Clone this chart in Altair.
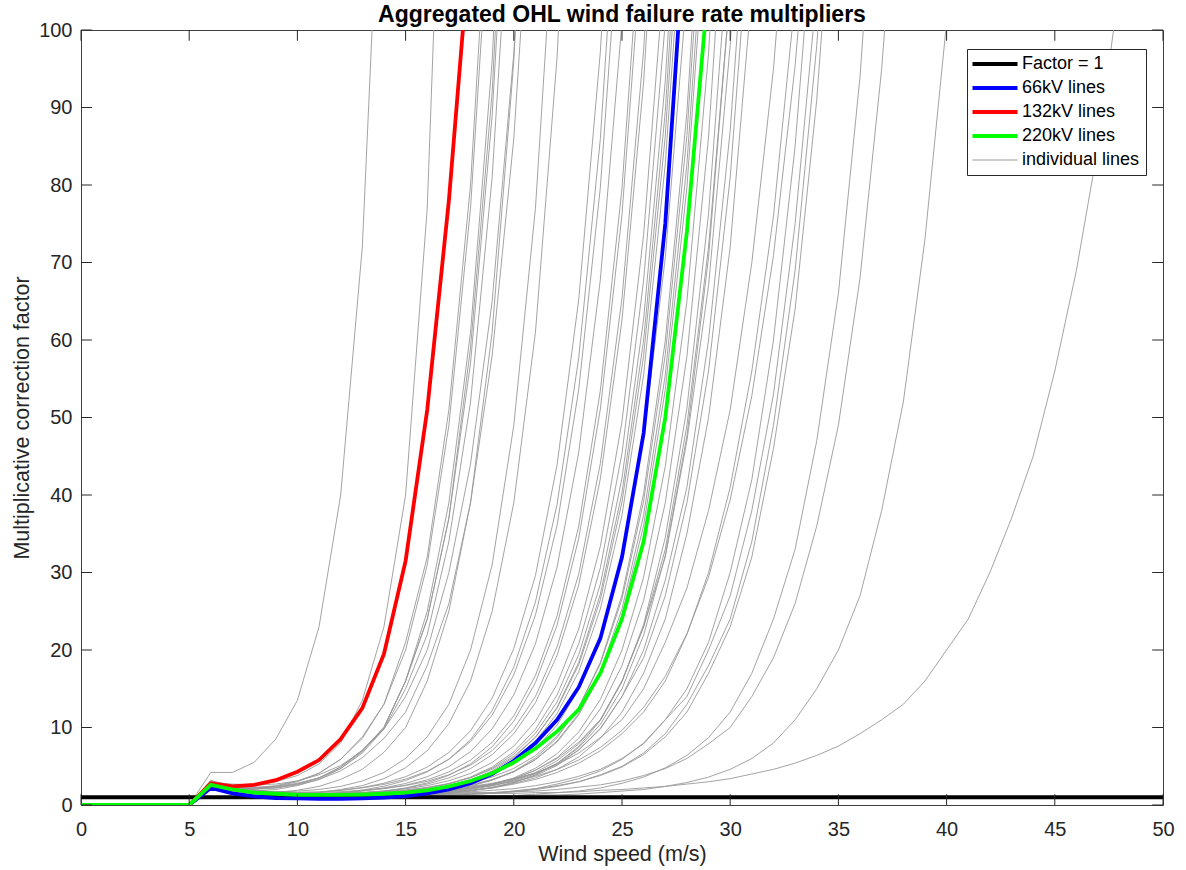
import altair as alt
import pandas as pd

speeds = list(range(0, 51))
calm = [0, 0, 0, 0, 0, 0]  # wind speeds 0..5 m/s

factor_x = [0, 50]
factor_y = [1, 1]
blue_66 = calm + [2.2, 1.5, 1.1, 0.9, 0.85, 0.8, 0.8, 0.85, 0.95, 1.15, 1.5, 2.0, 2.8, 4.0, 5.7, 8.0, 11.0, 15.2, 21.5, 32, 48, 75, 117]
red_132 = calm + [2.8, 2.4, 2.6, 3.2, 4.3, 5.8, 8.5, 12.5, 19.5, 31.5, 51, 78, 112]
green_220 = calm + [2.6, 2.0, 1.6, 1.45, 1.3, 1.3, 1.3, 1.35, 1.45, 1.6, 1.9, 2.4, 3.1, 4.1, 5.5, 7.3, 9.5, 12.3, 17, 24, 34, 50, 74, 106]

# individual lines, values from 6 m/s upward
individual = [
    [4.2, 4.2, 5.5, 8.5, 13.5, 23, 40, 72, 134],
    [3.1, 2.6, 2.7, 3.0, 3.8, 5.3, 8.0, 13.5, 23, 40, 77, 154],
    [2.6, 2.1, 2.1, 2.4, 3.0, 4.1, 5.9, 8.8, 13, 21, 32, 51, 80, 127],
    [2.9, 2.3, 2.2, 2.5, 3.1, 4.1, 5.9, 8.6, 13, 20, 31, 49, 77, 121],
    [2.3, 1.9, 1.8, 2.0, 2.5, 3.3, 4.7, 6.9, 10, 16, 25, 39, 61, 96, 153],
    [3.0, 2.4, 2.3, 2.4, 2.8, 3.5, 4.9, 7.0, 10, 16, 24, 37, 59, 92, 146],
    [2.7, 2.1, 2.0, 2.2, 2.7, 3.5, 4.9, 7.1, 10, 16, 24, 37, 57, 89, 138],
    [2.4, 2.3, 2.2, 2.3, 2.7, 3.5, 4.7, 6.7, 9.8, 15, 22, 34, 52, 81, 126],
    [2.8, 1.7, 1.5, 1.6, 1.9, 2.4, 3.3, 4.6, 6.8, 10, 16, 25, 39, 61, 96, 152],
    [2.8, 2.7, 2.6, 2.7, 3.1, 3.9, 5.1, 7.0, 9.8, 14, 20, 30, 44, 65, 97, 145],
    [3.2, 2.2, 2.1, 2.2, 2.6, 3.3, 4.4, 6.1, 8.6, 12, 18, 26, 39, 58, 86, 129],
    [2.4, 2.1, 1.8, 1.7, 1.8, 2.0, 2.4, 3.1, 4.2, 6.0, 8.8, 13, 20, 31, 49, 77, 121],
    [2.4, 1.7, 1.5, 1.4, 1.4, 1.6, 2.0, 2.5, 3.4, 4.8, 7.0, 10.5, 16, 25, 39, 61, 96.5, 153],
    [2.7, 1.9, 1.65, 1.54, 1.54, 1.64, 1.89, 2.26, 2.81, 3.65, 4.89, 6.77, 9.58, 13.8, 20.2, 29.6, 43.9, 65.2, 97.2, 145],
    [2.2, 1.6, 1.37, 1.28, 1.29, 1.39, 1.6, 1.93, 2.42, 3.16, 4.27, 5.92, 8.41, 12.2, 17.8, 26.2, 38.8, 57.7, 86, 129],
    [2.85, 2.16, 1.81, 1.68, 1.64, 1.7, 1.9, 2.21, 2.66, 3.34, 4.36, 5.89, 8.18, 11.6, 16.8, 24.5, 36.1, 53.6, 79.7, 119],
    [2.44, 1.75, 1.47, 1.36, 1.33, 1.39, 1.56, 1.82, 2.21, 2.78, 3.65, 4.95, 6.9, 9.83, 14.2, 20.8, 30.7, 45.5, 67.8, 101],
    [2.23, 1.97, 1.64, 1.5, 1.44, 1.47, 1.6, 1.8, 2.11, 2.56, 3.24, 4.26, 5.79, 8.08, 11.5, 16.7, 24.4, 36.0, 53.5, 79.6, 119],
    [2.73, 1.49, 1.25, 1.15, 1.12, 1.16, 1.29, 1.48, 1.77, 2.2, 2.86, 3.84, 5.31, 7.51, 10.8, 15.8, 23.2, 34.4, 51.1, 76.2, 114],
    [2.53, 2.28, 1.89, 1.71, 1.62, 1.62, 1.73, 1.89, 2.14, 2.51, 3.06, 3.9, 5.14, 7.02, 9.83, 14.0, 20.4, 29.8, 44.1, 65.4, 97.4, 145],
    [2.93, 1.8, 1.49, 1.36, 1.3, 1.31, 1.41, 1.57, 1.81, 2.17, 2.7, 3.5, 4.7, 6.5, 9.2, 13.2, 19.3, 28.4, 42.1, 62.6, 93.3, 139],
    [2.37, 2.03, 1.68, 1.51, 1.42, 1.41, 1.5, 1.62, 1.81, 2.09, 2.5, 3.13, 4.07, 5.48, 7.6, 10.8, 15.6, 22.7, 33.4, 49.5, 73.6, 109],
    [2.32, 1.63, 1.35, 1.22, 1.15, 1.15, 1.23, 1.34, 1.51, 1.77, 2.16, 2.73, 3.6, 4.9, 6.85, 9.78, 14.2, 20.8, 30.6, 45.4, 67.7, 101],
    [2.62, 1.87, 1.54, 1.38, 1.3, 1.29, 1.36, 1.46, 1.62, 1.86, 2.22, 2.75, 3.55, 4.75, 6.55, 9.25, 13.3, 19.4, 28.5, 42.2, 62.7, 93.4, 139],
    [2.12, 1.55, 1.28, 1.15, 1.09, 1.08, 1.15, 1.25, 1.4, 1.63, 1.97, 2.48, 3.25, 4.4, 6.13, 8.72, 12.6, 18.4, 27.2, 40.3, 60.0, 89.5, 134],
    [2.82, 2.11, 1.73, 1.56, 1.46, 1.43, 1.49, 1.59, 1.74, 1.95, 2.28, 2.77, 3.51, 4.62, 6.27, 8.76, 12.5, 18.1, 26.5, 39.1, 58.0, 86.3, 129],
    [2.42, 1.7, 1.41, 1.27, 1.18, 1.17, 1.24, 1.33, 1.47, 1.68, 1.99, 2.46, 3.17, 4.23, 5.82, 8.21, 11.8, 17.2, 25.3, 37.4, 55.5, 82.7, 123],
    [2.21, 1.94, 1.59, 1.43, 1.33, 1.31, 1.36, 1.44, 1.56, 1.73, 2.0, 2.4, 3.0, 3.91, 5.26, 7.29, 10.3, 14.9, 21.8, 32.1, 47.5, 70.6, 105],
    [2.71, 1.46, 1.2, 1.08, 1.01, 0.99, 1.03, 1.1, 1.2, 1.35, 1.58, 1.92, 2.43, 3.2, 4.35, 6.08, 8.67, 12.6, 18.4, 27.1, 40.2, 59.9, 89.4, 134],
    [2.51, 2.26, 1.85, 1.65, 1.53, 1.49, 1.53, 1.59, 1.69, 1.84, 2.05, 2.38, 2.87, 3.61, 4.72, 6.37, 8.86, 12.6, 18.2, 26.6, 39.2, 58.1, 86.4, 129],
    [2.91, 1.78, 1.45, 1.31, 1.22, 1.18, 1.22, 1.29, 1.38, 1.52, 1.73, 2.04, 2.51, 3.22, 4.28, 5.87, 8.26, 11.8, 17.2, 25.3, 37.4, 55.5, 82.7, 123],
    [2.36, 2.02, 1.65, 1.48, 1.36, 1.33, 1.37, 1.43, 1.52, 1.65, 1.85, 2.16, 2.61, 3.29, 4.31, 5.84, 8.13, 11.6, 16.8, 24.5, 36.1, 53.6, 79.7, 119],
    [2.31, 1.61, 1.32, 1.18, 1.09, 1.07, 1.1, 1.15, 1.22, 1.33, 1.49, 1.74, 2.11, 2.66, 3.5, 4.74, 6.62, 9.43, 13.6, 20.0, 29.4, 43.7, 65.0, 97.0, 145],
    [2.61, 1.85, 1.52, 1.35, 1.25, 1.21, 1.24, 1.28, 1.34, 1.44, 1.59, 1.8, 2.13, 2.62, 3.36, 4.47, 6.12, 8.61, 12.4, 18.0, 26.4, 39.0, 57.9, 86.2, 129],
    [2.11, 1.53, 1.25, 1.11, 1.03, 1.0, 1.03, 1.06, 1.12, 1.21, 1.34, 1.53, 1.82, 2.25, 2.91, 3.89, 5.36, 7.56, 10.9, 15.9, 23.3, 34.5, 51.2, 76.3, 114],
    [2.8, 2.09, 1.7, 1.52, 1.4, 1.35, 1.37, 1.41, 1.46, 1.54, 1.66, 1.83, 2.1, 2.5, 3.1, 4.01, 5.36, 7.39, 10.4, 15.0, 21.9, 32.2, 47.6, 70.7, 105],
    [2.4, 1.68, 1.37, 1.21, 1.1, 1.08, 1.1, 1.15, 1.3, 1.4, 1.5, 1.7, 2.0, 2.5, 3.2, 4.2, 5.7, 7.9, 11, 16, 23, 33, 49, 72, 105],
    [2.2, 1.92, 1.56, 1.38, 1.3, 1.26, 1.3, 1.4, 1.4, 1.5, 1.7, 1.9, 2.3, 2.7, 3.4, 4.5, 6.0, 8.1, 11, 16, 23, 32, 47, 67, 98, 141],
    [2.7, 1.44, 1.17, 1.04, 0.96, 0.93, 0.95, 1.0, 1.1, 1.2, 1.3, 1.5, 1.8, 2.3, 2.9, 3.8, 5.1, 7.1, 9.9, 14, 20, 29, 41, 60, 87, 126],
    [2.5, 2.24, 1.82, 1.61, 1.48, 1.44, 1.47, 1.52, 1.6, 1.7, 1.8, 2.0, 2.3, 2.7, 3.3, 4.1, 5.3, 7.1, 9.8, 14, 19, 27, 39, 56, 81, 118],
    [2.9, 1.76, 1.43, 1.27, 1.17, 1.14, 1.16, 1.2, 1.3, 1.4, 1.5, 1.6, 1.9, 2.2, 2.8, 3.5, 4.6, 6.2, 8.6, 12, 17, 24, 35, 50, 72, 105],
    [2.35, 2.0, 1.63, 1.45, 1.35, 1.33, 1.4, 1.5, 1.6, 1.7, 1.8, 2.1, 2.4, 2.8, 3.4, 4.1, 5.2, 6.7, 8.7, 11, 15, 21, 28, 38, 51, 70, 95, 130],
    [2.3, 1.62, 1.33, 1.19, 1.1, 1.08, 1.12, 1.2, 1.3, 1.3, 1.5, 1.7, 1.9, 2.2, 2.7, 3.3, 4.2, 5.4, 7.0, 9.2, 12, 16, 22, 30, 41, 56, 76, 104],
    [2.63, 1.88, 1.55, 1.39, 1.3, 1.28, 1.32, 1.38, 1.46, 1.57, 1.72, 1.92, 2.18, 2.55, 3.04, 3.7, 4.59, 5.8, 7.43, 9.63, 12.6, 16.6, 22.1, 29.4, 39.4, 52.8, 70.9, 95.4, 128],
    [2.1, 1.5, 1.2, 1.1, 1.0, 0.98, 1.0, 1.0, 1.1, 1.1, 1.2, 1.2, 1.4, 1.5, 1.8, 2.1, 2.7, 3.4, 4.4, 5.9, 8.0, 11, 15, 21, 30, 42, 60, 85, 120],
    [2.8, 2.1, 1.7, 1.5, 1.4, 1.3, 1.4, 1.4, 1.4, 1.5, 1.5, 1.6, 1.7, 1.9, 2.1, 2.5, 3.0, 3.7, 4.6, 6.0, 7.9, 11, 14, 20, 27, 38, 53, 75, 105],
    [2.4, 1.7, 1.4, 1.2, 1.1, 1.1, 1.1, 1.1, 1.1, 1.2, 1.2, 1.3, 1.4, 1.5, 1.7, 2.0, 2.4, 3.0, 3.9, 5.0, 6.7, 9.2, 13, 18, 24, 34, 49, 69, 98, 139],
    [2.2, 1.9, 1.6, 1.4, 1.3, 1.2, 1.2, 1.3, 1.3, 1.3, 1.4, 1.4, 1.5, 1.6, 1.8, 2.1, 2.5, 3.0, 3.8, 4.9, 6.5, 8.8, 12, 17, 23, 32, 46, 64, 91, 129],
    [2.7, 1.4, 1.2, 1.0, 0.95, 0.91, 0.92, 0.93, 0.94, 0.96, 0.98, 1.0, 1.1, 1.1, 1.2, 1.4, 1.6, 1.8, 2.2, 2.8, 3.6, 4.8, 6.4, 8.7, 12, 17, 24, 33, 47, 66, 94, 134],
    [2.5, 2.2, 1.8, 1.6, 1.5, 1.4, 1.4, 1.4, 1.4, 1.5, 1.5, 1.5, 1.6, 1.6, 1.7, 1.8, 2.0, 2.3, 2.6, 3.1, 3.8, 4.7, 6.0, 7.9, 10, 14, 19, 26, 36, 49, 68, 95, 132],
    [2.9, 1.8, 1.4, 1.3, 1.2, 1.1, 1.1, 1.1, 1.1, 1.1, 1.1, 1.1, 1.2, 1.2, 1.2, 1.3, 1.3, 1.4, 1.6, 1.8, 2.0, 2.4, 2.9, 3.6, 4.6, 6.0, 8.0, 11, 15, 20, 27, 38, 52, 73, 101],
    [2.4, 2.0, 1.6, 1.5, 1.3, 1.3, 1.3, 1.3, 1.3, 1.3, 1.4, 1.4, 1.4, 1.5, 1.5, 1.6, 1.6, 1.7, 1.9, 2.0, 2.2, 2.4, 2.7, 3.0, 3.4, 4.0, 4.6, 5.4, 6.4, 7.6, 9.2, 11, 13, 16, 20, 24, 30, 37, 45, 56, 69, 85, 106],
]

x_ticks = [0, 5, 10, 15, 20, 25, 30, 35, 40, 45, 50]
y_ticks = [0, 10, 20, 30, 40, 50, 60, 70, 80, 90, 100]
tick_len_x = 0.5
tick_len_y = 1.39

rows = []
for k, tail in enumerate(individual):
    for sp, v in zip(speeds, calm + tail):
        rows.append({"speed": sp, "value": v, "series": "individual lines", "lid": k})
gray_df = pd.DataFrame(rows)
factor_df = pd.DataFrame({"speed": factor_x, "value": factor_y, "series": "Factor = 1"})
blue_df = pd.DataFrame({"speed": speeds[:len(blue_66)], "value": blue_66, "series": "66kV lines"})
red_df = pd.DataFrame({"speed": speeds[:len(red_132)], "value": red_132, "series": "132kV lines"})
green_df = pd.DataFrame({"speed": speeds[:len(green_220)], "value": green_220, "series": "220kV lines"})

dom = ["Factor = 1", "66kV lines", "132kV lines", "220kV lines", "individual lines"]
col_scale = alt.Scale(domain=dom, range=["#000000", "#0000ff", "#ff0000", "#00ff00", "#999999"])

FONT = "Liberation Sans"
TXT = "#262626"
xenc = alt.X("speed:Q", scale=alt.Scale(domain=[0, 50], nice=False, zero=False),
             axis=alt.Axis(values=x_ticks, title="Wind speed (m/s)", grid=False, ticks=False, domain=False,
                           labelPadding=14, titlePadding=4, labelFontSize=20, titleFontSize=21.5,
                           labelFont=FONT, titleFont=FONT, labelColor=TXT, titleColor=TXT,
                           titleFontWeight="normal", labelFlush=False))
yenc = alt.Y("value:Q", scale=alt.Scale(domain=[0, 100], nice=False, zero=False),
             axis=alt.Axis(values=y_ticks, title="Multiplicative correction factor", grid=False, ticks=False,
                           domain=False, labelPadding=9, titlePadding=5, labelFontSize=20, titleFontSize=21.5,
                           labelFont=FONT, titleFont=FONT, labelColor=TXT, titleColor=TXT,
                           titleFontWeight="normal", labelFlush=False))

legend = alt.Legend(
    title=None, orient="none", legendX=886, legendY=19, direction="vertical",
    fillColor="#ffffff", strokeColor=TXT, padding=6, cornerRadius=0,
    symbolType="stroke", symbolSize=2025, labelFontSize=18, labelFont=FONT, labelColor="#000000",
    symbolOffset=13, labelOffset=18, rowPadding=6, symbolOpacity=1,
    symbolStrokeWidth={"expr": "datum.value === 'individual lines' ? 1 : 3.8"},
)


def enc(base):
    return base.encode(
        x=xenc, y=yenc,
        color=alt.Color("series:N", scale=col_scale, legend=legend),
    )


gray = enc(alt.Chart(gray_df).mark_line(clip=True, strokeWidth=0.9)).encode(detail="lid:N")
factor = enc(alt.Chart(factor_df).mark_line(clip=True, strokeWidth=3.8))
blue = enc(alt.Chart(blue_df).mark_line(clip=True, strokeWidth=3.8))
red = enc(alt.Chart(red_df).mark_line(clip=True, strokeWidth=3.8))
green = enc(alt.Chart(green_df).mark_line(clip=True, strokeWidth=3.8))

xt = pd.DataFrame({"t": x_ticks})
yt = pd.DataFrame({"t": y_ticks})
bt = alt.Chart(xt).mark_rule(color=TXT, strokeWidth=1).encode(
    x=alt.X("t:Q"), y=alt.datum(0), y2=alt.datum(tick_len_y))
tt = alt.Chart(xt).mark_rule(color=TXT, strokeWidth=1).encode(
    x=alt.X("t:Q"), y=alt.datum(100), y2=alt.datum(100 - tick_len_y))
lt = alt.Chart(yt).mark_rule(color=TXT, strokeWidth=1).encode(
    y=alt.Y("t:Q"), x=alt.datum(0), x2=alt.datum(tick_len_x))
rt = alt.Chart(yt).mark_rule(color=TXT, strokeWidth=1).encode(
    y=alt.Y("t:Q"), x=alt.datum(50), x2=alt.datum(50 - tick_len_x))

chart = alt.layer(gray, factor, blue, red, green, bt, tt, lt, rt).properties(
    width=1082, height=775,
    title=alt.Title("Aggregated OHL wind failure rate multipliers", fontSize=23, fontWeight="bold",
                    font=FONT, color="#000000", anchor="middle", offset=0, dy=7),
    autosize=alt.AutoSizeParams(type="none"),
    padding={"left": 81, "top": 30, "right": 23, "bottom": 65},
    background="#ffffff",
).configure_view(stroke="#404040", strokeWidth=1)

chart.save("out.html", embed_options={"renderer": "svg", "actions": False})
